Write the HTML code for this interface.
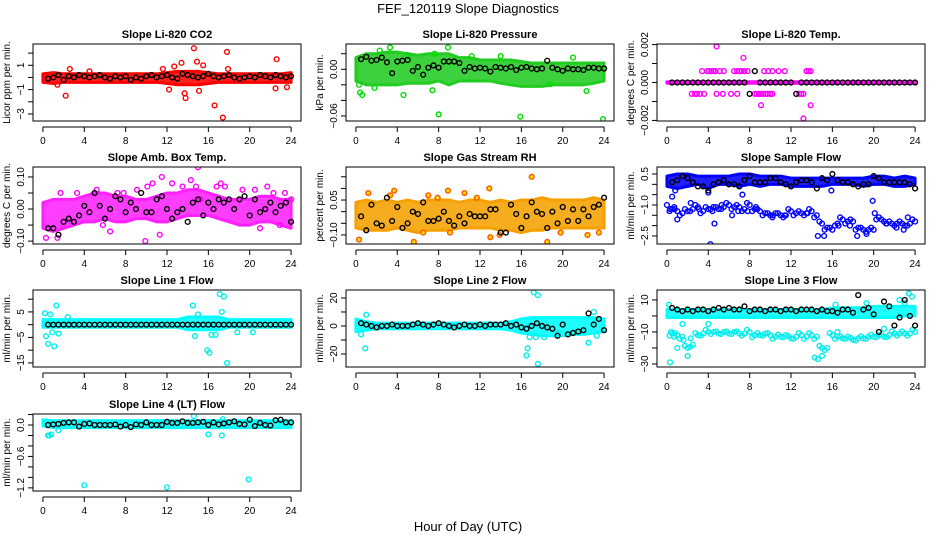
<!DOCTYPE html>
<html><head><meta charset="utf-8"><style>
body{margin:0;background:#fff}
svg{display:block;font-family:"Liberation Sans",sans-serif}
</style></head><body>
<svg id="c" width="936" height="540" viewBox="0 0 936 540">
<text x="468" y="13" text-anchor="middle" font-size="13">FEF_120119  Slope Diagnostics</text>
<text x="468" y="531" text-anchor="middle" font-size="13">Hour of Day (UTC)</text>
</svg>
<script>
const bandHours=[0,1,2,3,4,5,6,7,8,9,10,11,12,13,14,15,16,17,18,19,20,21,22,23,24];
const blackHours=[0.5,1,1.5,2,2.5,3,3.5,4,4.5,5,5.5,6,6.5,7,7.5,8,8.5,9,9.5,10,10.5,11,11.5,12,12.5,13,13.5,14,14.5,15,15.5,16,16.5,17,17.5,18,18.5,19,19.5,20,20.5,21,21.5,22,22.5,23,23.5,24];
const xTicks=[0,4,8,12,16,20,24];

const co2Lo=[-0.4,-0.5,-0.4,-0.4,-0.4,-0.4,-0.4,-0.4,-0.4,-0.4,-0.4,-0.4,-0.5,-0.6,-0.6,-0.6,-0.5,-0.4,-0.4,-0.4,-0.4,-0.4,-0.4,-0.4,-0.4];
const co2Hi=[0.3,0.4,0.3,0.3,0.3,0.3,0.3,0.3,0.3,0.3,0.3,0.3,0.4,0.5,0.5,0.5,0.4,0.3,0.3,0.3,0.3,0.3,0.3,0.3,0.4];
const co2Black=[-0.1,0,0.2,-0.2,0.1,0,0.2,0.1,0,0.1,0.2,0,-0.1,0.1,0,0.1,-0.2,0,-0.1,0.1,0.2,0,0.1,0.2,0,-0.1,0.3,0.2,0.1,0,0.1,0.3,0.1,0,0.1,0.2,0,-0.1,0,0.1,0,0.2,0.1,0,0.2,0.1,0,0.1];
const co2OutX=[2.2,2.6,1.4,12.2,12.7,13.4,13.7,13.8,14.6,14.9,15.5,15.1,16.6,17.4,17.8,17.9,22.5,22.6,23.6,4.5,11.6];
const co2OutY=[-1.5,0.7,-0.6,-1,0.9,1.2,-1.3,-1.7,2.4,1.3,1,-1.1,-2.3,-3.3,2.1,0.7,-0.9,1.5,-0.8,0.5,0.7];

const prLo=[-0.015,-0.02,-0.02,-0.02,-0.02,-0.018,-0.018,-0.018,-0.015,-0.02,-0.015,-0.015,-0.015,-0.015,-0.018,-0.02,-0.022,-0.022,-0.022,-0.02,-0.02,-0.02,-0.02,-0.018,-0.015];
const prHi=[0.015,0.02,0.02,0.022,0.022,0.02,0.018,0.02,0.02,0.02,0.015,0.015,0.012,0.012,0.012,0.012,0.01,0.008,0.008,0.008,0.008,0.008,0.008,0.008,0.008];
const prBlack=[0.013,0.016,0.011,0.012,0.015,0.009,-0.005,0.01,0.011,0.012,-0.002,0.003,-0.007,0.002,0.005,0.002,0.01,0.01,0.01,0.008,-0.002,0.003,0.001,0.002,0.001,-0.003,0.003,0.002,0.001,0.003,-0.001,0.002,0.003,0.001,0,0.001,0.011,0.002,0,-0.002,0.001,0,0,-0.001,0.002,0.002,0.001,0.001];
const prOutX=[0.3,0.4,0.6,2.3,3.3,4.6,8,8.9,15.9,23.9,22.3,1.8,7.4,7.6,5,11.2,14,18.8,21];
const prOutY=[-0.02,-0.03,-0.033,0.024,0.028,-0.033,-0.058,0.028,-0.061,-0.064,-0.028,-0.024,-0.027,0.02,0.018,0.017,0.017,-0.019,0.015];

const tmLo=[-0.00004,-0.00004,-0.00004,-0.00004,-0.00004,-0.00004,-0.00004,-0.00004,-0.00004,-0.00004,-0.00004,-0.00004,-0.00004,-0.00004,-0.00004,-0.00004,-0.00004,-0.00004,-0.00004,-0.00004,-0.00004,-0.00004,-0.00004,-0.00004,-0.00004];
const tmHi=[0.00004,0.00004,0.00004,0.00004,0.00004,0.00004,0.00004,0.00004,0.00004,0.00004,0.00004,0.00004,0.00004,0.00004,0.00004,0.00004,0.00004,0.00004,0.00004,0.00004,0.00004,0.00004,0.00004,0.00004,0.00004];
const tmBlack=[0,0,0,0,0,0,0,0,0,0,0,0,0,0,0,-0.0006,0.0006,0,0,0,0,0,0,0,-0.0006,0,0,0,0,0,0,0,0,0,0,0,0,0,0,0,0,0,0,0,0,0,0,0];
const tmOutX=[3.4,3.9,4.1,4.3,4.5,4.7,5.1,5.5,6.5,6.8,7,7.2,7.5,7.8,9.4,9.8,10.2,10.8,11.4,13.5,13.7,13.9,2.4,2.7,2.9,3.2,3.6,4.8,5.4,6.2,6.8,8.5,8.7,8.9,9.1,9.3,9.5,9.7,10,10.2,12.8,13,13.2,4.8,7.4,9.1,13.9,13.2];
const tmOutY=[0.0006,0.0006,0.0006,0.0006,0.0006,0.0006,0.0006,0.0006,0.0006,0.0006,0.0006,0.0006,0.0006,0.0006,0.0006,0.0006,0.0006,0.0006,0.0006,0.0006,0.0006,0.0006,-0.0006,-0.0006,-0.0006,-0.0006,-0.0006,-0.0006,-0.0006,-0.0006,-0.0006,-0.0006,-0.0006,-0.0006,-0.0006,-0.0006,-0.0006,-0.0006,-0.0006,-0.0006,-0.0006,-0.0006,-0.0006,0.0019,0.0013,-0.0012,-0.0012,-0.0019];

const abLo=[-0.06,-0.07,-0.06,-0.05,-0.04,-0.04,-0.03,-0.04,-0.04,-0.03,-0.03,-0.04,-0.04,-0.03,-0.02,-0.02,-0.02,-0.03,-0.04,-0.05,-0.05,-0.04,-0.04,-0.05,-0.06];
const abHi=[0.02,0.03,0.03,0.03,0.04,0.05,0.05,0.04,0.04,0.03,0.03,0.04,0.05,0.05,0.06,0.06,0.05,0.04,0.03,0.03,0.03,0.04,0.04,0.03,0.03];
const abBlack=[-0.06,-0.06,-0.08,-0.04,-0.03,-0.04,-0.02,0.01,-0.01,0.05,0.01,-0.03,0,0.04,0.03,-0.01,0.02,0,0.05,-0.01,-0.01,0.03,0.04,0,-0.03,-0.01,0,-0.04,0.02,0.03,-0.02,0.02,0,0.03,0.02,0.03,0,0.03,0.04,-0.02,0.03,-0.01,0,0.02,-0.01,0.01,0.02,-0.04];
const abOutX=[0.3,1.4,1.7,3.3,5.2,5.8,6.5,7.2,7.8,9.1,9.9,10.1,10.6,11.3,11.5,12.5,13.5,14.3,14.8,15,15.2,16.8,17.2,17.6,19.3,20.5,21,21.7,22.3,22.9,23.4,24];
const abOutY=[-0.09,-0.09,0.05,0.05,0.06,-0.05,-0.07,0.05,0.05,0.06,-0.1,0.07,0.08,-0.08,0.1,0.08,0.07,0.09,0.07,0.13,0.03,0.07,0.08,0.07,0.06,0.06,-0.06,0.07,0.05,-0.05,0.05,0.03];

const rhLo=[-0.07,-0.08,-0.08,-0.08,-0.07,-0.08,-0.09,-0.08,-0.08,-0.08,-0.07,-0.07,-0.07,-0.07,-0.08,-0.08,-0.09,-0.08,-0.08,-0.07,-0.07,-0.07,-0.07,-0.07,-0.07];
const rhHi=[0.04,0.05,0.04,0.05,0.04,0.05,0.04,0.05,0.05,0.05,0.04,0.05,0.05,0.04,0.05,0.04,0.05,0.05,0.06,0.05,0.05,0.05,0.05,0.06,0.05];
const rhBlack=[-0.02,-0.08,0.03,-0.05,-0.06,0.06,-0.04,0.02,-0.07,-0.05,0,-0.01,0.04,-0.04,-0.04,-0.03,0,-0.04,-0.06,-0.02,-0.05,-0.01,-0.02,-0.02,-0.02,0.01,0.01,-0.09,-0.09,0.03,-0.01,-0.07,-0.02,0.04,0,-0.01,-0.07,0,-0.05,0.02,-0.04,0.01,-0.04,0.01,-0.02,0.02,0.03,0.06];
const rhOutX=[0.3,1.2,3.3,3.7,5.6,6.5,7,7.9,8.9,9.1,10.5,11.7,12.9,13,13.9,17,18.5,19.8,22.4,23.5];
const rhOutY=[-0.12,0.08,0.07,0.09,-0.13,-0.09,0.07,0.06,0.09,-0.09,0.08,0.06,0.1,-0.11,-0.1,0.15,-0.13,-0.09,-0.1,-0.09];

const sfLo=[-0.1,-0.2,-0.1,0,-0.2,0,0,-0.1,0,-0.1,0,0,-0.1,-0.1,-0.1,-0.1,0,0,0,-0.1,0,0,-0.1,-0.1,0];
const sfHi=[0.4,0.5,0.5,0.4,0.4,0.4,0.4,0.5,0.5,0.4,0.4,0.4,0.3,0.3,0.3,0.3,0.3,0.3,0.3,0.3,0.4,0.4,0.3,0.4,0.3];
const sfLower=[-1.2,-1.3,-1.4,-1.3,-1.2,-1.1,-1.3,-1.2,-1.1,-1.2,-1.1,-1.0,-1.1,-1.1,-1.2,-1.0,-1.2,-1.3,-1.4,-1.5,-1.4,-1.5,-1.5,-1.3,-1.4,-1.4,-1.4,-1.3,-1.5,-1.9,-2.1,-2.2,-1.9,-1.7,-1.8,-1.8,-2.1,-2.2,-2.2,-2.2,-1.6,-1.8,-1.8,-2.0,-1.8,-2.0,-1.9,-1.8];
const sfBlack=[0.1,0.2,0.4,0.3,0.1,-0.1,-0.1,-0.3,0,0.1,0.2,0,0,-0.1,0.2,0.4,0.1,0.1,0.1,0.3,0.3,0.1,0,-0.1,0.1,0.2,0.2,0.1,-0.2,0.3,0.2,0.5,0.2,0.1,0.1,0,-0.1,0,0,0.4,0.3,0.1,0.1,0.1,0.1,0.1,0,-0.2];
const sfOutX=[0,0.3,0.5,0.8,1,4,4.2,4.4,4.6,6.3,7.3,7.8,15.9,19.9,20.1,0.7,2.3,3.1,5.3,6.9,8.6,10.2,11.4,13.6,14.6,15.2,16.6,17.7,18.4,19.3,21.2,22.2,22.9,23.3];
const sfOutY=[-1.0,-1.2,-0.6,-0.3,-1.7,-0.4,-2.9,-1.3,-1.9,-1.5,-0.5,-1.3,-0.3,-0.8,-1.4,-1.1,-0.9,-1.2,-1.0,-1.3,-1.1,-1.6,-1.5,-1.4,-2.5,-2.5,-2.0,-2.0,-2.5,-2.4,-1.9,-2.1,-2.2,-1.6];

const l1Lo=[-1,-1,-1,-1,-1,-1,-1,-1,-1,-1,-1,-1,-1,-1,-2,-2,-2,-2,-1,-1,-1,-1,-1,-1,-1];
const l1Hi=[2,2,2,2,2,2,2,2,2,2,2,2,2,2,3,3,3,3,2,2,2,2,2,2,2];
const l1Black=[0,0,0,0,0,0,0,0,0,0,0,0,0,0,0,0,0,0,0,0,0,0,0,0,0,0,0,0,0,0,0,0,0,0,0,0,0,0,0,0,0,0,0,0,0,0,0,0];
const l1OutX=[0.2,0.3,0.5,0.7,0.9,1.1,1.3,1.5,2.4,14.5,14.7,15,15.9,16.1,16.3,16.7,17.1,17.3,17.5,17.8,18.8,20.3];
const l1OutY=[4.5,-4.5,-7.5,4,-3,-8.5,7.5,-3.5,3,7.5,-4.5,4,-10,-11,-4,-4,12,5,11,-15,-3,-3];

const l2Lo=[-4,-3,-2,-2,-2,-2,-2,-2,-2,-2,-2,-2,-2,-2,-2,-3,-5,-6,-7,-7,-7,-6,-6,-5,-4];
const l2Hi=[5,3,2,2,2,2,2,2,2,2,2,2,2,2,2,3,5,6,6,6,6,6,6,6,5];
const l2Black=[2,1,0,-1,0,0,1,0,0,0,1,2,1,0,1,2,1,0,-1,0,1,0,0,1,0,1,1,1,2,0,1,-1,-2,0,2,0,-1,-2,-7,1,-6,-5,-4,-3,9,1,5,-3];
const l2OutX=[0.5,0.9,1,16.5,16.6,16.8,17.2,17.4,17.6,17.6,18.2,19.6,22.5,23,23.3];
const l2OutY=[-6,-16,8,-21,-16,-8,24,-8,22,-27,-8,-5,-12,10,-7];

const l3Lo=[-1,-1,-1,-1,-1,-1,-1,-1,-1,-1,-1,-1,-1,-1,-1,-1,-1,-1,-1,-1,-1,-1,-1,0,0];
const l3Hi=[4,4,4,4,4,4,4,4,4,4,4,4,4,4,4,4,5,5,5,5,6,6,6,6,6];
const l3Lower=[-11,-12,-13,-20,-18,-12,-11,-10,-10,-11,-10,-11,-10,-11,-11,-10,-12,-12,-11,-12,-13,-13,-12,-14,-13,-12,-13,-12,-13,-20,-20,-12,-13,-14,-13,-15,-14,-14,-13,-13,-12,-13,-12,-11,-11,-11,-11,-10];
const l3Black=[5,4,3,4,3,4,4,3,4,5,4,5,4,4,6,3,4,4,3,4,4,3,4,4,3,4,4,4,3,4,3,3,2,4,4,2,13,4,5,1,-10,9,6,-6,-1,10,0,-6];
const l3OutX=[0.2,0.3,1,1.5,1.6,2,2.3,4,15,16.3,16.5,19.3,21,22.5,23,23.4,23.7,0.4,0.7,14.3,14.6];
const l3OutY=[7,-29,-20,-5,-15,-25,-14,-5,-25,7,-10,8,-8,10,8,14,12,-10,-13,-26,-27];

const l4Lo=[-0.02,-0.05,-0.05,-0.05,-0.05,-0.05,-0.05,-0.05,-0.05,-0.05,-0.05,-0.05,-0.05,-0.05,-0.05,-0.05,-0.05,-0.05,-0.05,-0.05,-0.05,-0.05,-0.05,-0.05,-0.05];
const l4Hi=[0.1,0.08,0.08,0.08,0.08,0.08,0.08,0.08,0.08,0.08,0.08,0.08,0.08,0.08,0.08,0.08,0.08,0.08,0.08,0.08,0.08,0.08,0.08,0.08,0.08];
const l4Black=[0,0.01,0.02,0.04,0.05,0.05,-0.03,0.02,0.03,0,0,0,0,0.01,-0.03,0,-0.04,0.01,0,0.05,0,0,0,0.06,0.04,0.04,0.07,0.04,0.04,0.05,0.06,0,0.05,0.01,0.03,0.05,0.07,0.02,0.01,0.1,-0.02,0.04,0,-0.01,0.09,0.1,0.05,0.05];
const l4OutX=[0.5,0.6,0.8,1.5,4,12,14.6,16,17.3,17.4,19.9];
const l4OutY=[-0.2,-0.2,-0.18,-0.1,-1.15,-1.19,0.17,-0.18,-0.2,0.11,-1.04];

const panels=[
 {n:'co2',t:'Slope Li-820 CO2',yl:'Licor ppm per min.',col:0,row:0,dom:[-3.58,2.75],ticks:[-3,-2,-1,0,1,2],labs:[-3,-1,1],fmt:0,c:'#ff0000',band:'#ff0000',lo:co2Lo,hi:co2Hi,bk:co2Black,ox:co2OutX,oy:co2OutY},
 {n:'pressure',t:'Slope Li-820 Pressure',yl:'kPa per min.',col:1,row:0,dom:[-0.0665,0.0325],ticks:[-0.06,-0.04,-0.02,0,0.02],labs:[-0.06,0],fmt:2,c:'#00dd00',band:'#22cc22',lo:prLo,hi:prHi,bk:prBlack,ox:prOutX,oy:prOutY},
 {n:'temp',t:'Slope Li-820 Temp.',yl:'degrees C per min.',col:2,row:0,dom:[-0.00203,0.00203],ticks:[-0.002,-0.001,0,0.001,0.002],labs:[-0.002,0,0.002],fmt:3,c:'#ff00ff',band:'#ff00ff',lo:tmLo,hi:tmHi,bk:tmBlack,ox:tmOutX,oy:tmOutY},
 {n:'amb-box-temp',t:'Slope Amb. Box Temp.',yl:'degrees C per min.',col:0,row:1,dom:[-0.109,0.131],ticks:[-0.1,-0.05,0,0.05,0.1],labs:[-0.1,0,0.1],fmt:2,c:'#ff00ff',band:'#ff22ff',lo:abLo,hi:abHi,bk:abBlack,ox:abOutX,oy:abOutY},
 {n:'gas-stream-rh',t:'Slope Gas Stream RH',yl:'percent per min.',col:1,row:1,dom:[-0.139,0.192],ticks:[-0.1,-0.05,0,0.05,0.1,0.15],labs:[-0.1,0.05],fmt:2,c:'#ff5500',band:'#f5a000',fill:'#ffdd00',lo:rhLo,hi:rhHi,bk:rhBlack,ox:rhOutX,oy:rhOutY},
 {n:'sample-flow',t:'Slope Sample Flow',yl:'ml/min per min.',col:2,row:1,dom:[-2.89,0.84],ticks:[-2.5,-2,-1.5,-1,-0.5,0,0.5],labs:[-2.5,-1,0.5],fmt:1,c:'#0000ff',band:'#0000ff',lo:sfLo,hi:sfHi,bk:sfBlack,ox:sfOutX,oy:sfOutY,low:sfLower},
 {n:'line1-flow',t:'Slope Line 1 Flow',yl:'ml/min per min.',col:0,row:2,dom:[-16.6,13.6],ticks:[-15,-10,-5,0,5,10],labs:[-15,-5,5],fmt:0,c:'#00eeee',band:'#00ffff',lo:l1Lo,hi:l1Hi,bk:l1Black,ox:l1OutX,oy:l1OutY},
 {n:'line2-flow',t:'Slope Line 2 Flow',yl:'ml/min per min.',col:1,row:2,dom:[-29.3,25.7],ticks:[-20,-10,0,10,20],labs:[-20,0,20],fmt:0,c:'#00eeee',band:'#00ffff',lo:l2Lo,hi:l2Hi,bk:l2Black,ox:l2OutX,oy:l2OutY},
 {n:'line3-flow',t:'Slope Line 3 Flow',yl:'ml/min per min.',col:2,row:2,dom:[-31.9,16.2],ticks:[-30,-20,-10,0,10],labs:[-30,-10,10],fmt:0,c:'#00eeee',band:'#00ffff',lo:l3Lo,hi:l3Hi,bk:l3Black,ox:l3OutX,oy:l3OutY,low:l3Lower},
 {n:'line4-flow',t:'Slope Line 4 (LT) Flow',yl:'ml/min per min.',col:0,row:3,dom:[-1.26,0.21],ticks:[-1.2,-1,-0.8,-0.6,-0.4,-0.2,0,0.2],labs:[-1.2,-0.6,0],fmt:1,c:'#00eeee',band:'#00ffff',lo:l4Lo,hi:l4Hi,bk:l4Black,ox:l4OutX,oy:l4OutY}
];

const svg=document.getElementById('c');
const NS='http://www.w3.org/2000/svg';
const colL=[33,346,657], rowT=[44,167,290,414], PW=268, PH=77;
function mk(tag,attrs,parent){const e=document.createElementNS(NS,tag);for(const k in attrs)e.setAttribute(k,attrs[k]);parent.appendChild(e);return e;}
function fmtNum(v,d){const s=Math.abs(v).toFixed(d);return (v<-1e-12?'\u2212':'')+s;}

panels.forEach(p=>{
  const L=colL[p.col],T=rowT[p.row];
  const g=mk('g',{},svg);
  
  
  const xs=h=>L+PW*(h+0.96)/25.92;
  const ys=v=>T+PH*(p.dom[1]-v)/(p.dom[1]-p.dom[0]);
  const clip='clip-'+p.n;
  const cp=mk('clipPath',{id:clip},g);mk('rect',{x:L,y:T,width:PW,height:PH},cp);
  const pg=mk('g',{'clip-path':'url(#'+clip+')'},g);
  let pts=[];
  bandHours.forEach((h,i)=>pts.push(xs(h)+','+ys(p.hi[i])));
  for(let i=bandHours.length-1;i>=0;i--)pts.push(xs(bandHours[i])+','+ys(p.lo[i]));
  const band=mk('polygon',{points:pts.join(' '),fill:p.band,'fill-opacity':0.88,stroke:p.band,'stroke-width':3,'stroke-linejoin':'round'},pg);
  
  
  const dot=(x,y,col,fill,name)=>{const c=mk('circle',{cx:x,cy:y,r:2.4,fill:fill||'none',stroke:col,'stroke-width':1.4},pg);
    
    };
  if(p.low){const n=Math.min(blackHours.length,p.low.length);for(let i=0;i<n;i++){dot(xs(blackHours[i]),ys(p.low[i]),p.c,null,'lower-cluster-point');dot(xs(blackHours[i]-0.25),ys(p.low[i]+(i%2?0.08:-0.08)*(p.dom[1]-p.dom[0])/3),p.c,null,'lower-cluster-point');}}
  const no=Math.min(p.ox.length,p.oy.length);
  for(let i=0;i<no;i++)dot(xs(p.ox[i]),ys(p.oy[i]),p.c,p.fill,'scatter-point');
  const nb=Math.min(blackHours.length,p.bk.length);
  for(let i=0;i<nb;i++)dot(xs(blackHours[i]),ys(p.bk[i]),'#000',null,'black-point');
  mk('rect',{x:L,y:T,width:PW,height:PH,fill:'none',stroke:'#000','stroke-width':1},g);
  const tt=mk('text',{x:L+PW/2,y:T-6,'text-anchor':'middle','font-size':11,'font-weight':'bold'},g);tt.textContent=p.t;
  
  
  const ay=T+PH+6;
  mk('line',{x1:xs(0),x2:xs(24),y1:ay,y2:ay,stroke:'#000'},g);
  xTicks.forEach(h=>{mk('line',{x1:xs(h),x2:xs(h),y1:ay,y2:ay+5,stroke:'#000'},g);
    const t=mk('text',{x:xs(h),y:ay+17,'text-anchor':'middle','font-size':10},g);t.textContent=h;
    
    });
  p.ticks.forEach(v=>{mk('line',{x1:L-5,x2:L,y1:ys(v),y2:ys(v),stroke:'#000'},g);});
  p.labs.forEach(v=>{const t=mk('text',{x:0,y:0,'text-anchor':'middle','font-size':10,transform:'translate('+(L-9)+','+ys(v)+') rotate(-90)'},g);t.textContent=fmtNum(v,p.fmt);
    
    });
  const yt=mk('text',{x:0,y:0,'text-anchor':'middle','font-size':10,transform:'translate('+(L-23)+','+(T+PH/2)+') rotate(-90)'},g);yt.textContent=p.yl;
  
  
});
</script>
</body></html>
